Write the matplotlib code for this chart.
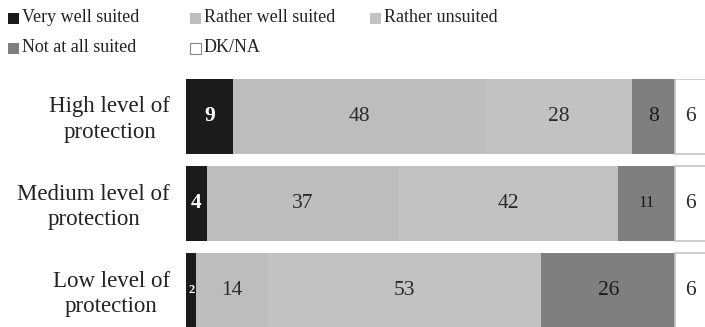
import matplotlib
matplotlib.use("Agg")
import matplotlib.pyplot as plt
from matplotlib.patches import Rectangle
from matplotlib.transforms import blended_transform_factory
import numpy as np

SERIF = ['Liberation Serif', 'DejaVu Serif']
plt.rcParams['font.family'] = SERIF

categories = ["High level of\nprotection", "Medium level of\nprotection", "Low level of\nprotection"]
series_names = ["Very well suited", "Rather well suited", "Rather unsuited", "Not at all suited", "DK/NA"]
very_well = [9, 4, 2]
rather_well = [48, 37, 14]
rather_unsuited = [28, 42, 53]
not_at_all = [8, 11, 26]
dk_na = [6, 6, 6]

series = [very_well, rather_well, rather_unsuited, not_at_all, dk_na]
colors = ["#1b1b1b", "#bdbdbd", "#c2c2c2", "#7f7f7f", "#ffffff"]
edges = ["none", "none", "none", "none", "#c4c4c4"]
text_colors = ["white", "#2a2a2a", "#2a2a2a", "#1a1a1a", "#2a2a2a"]
text_weights = ["bold", "normal", "normal", "normal", "normal"]

# each row is scaled to a 100% total
data = np.array(series, dtype=float)
shares = data / data.sum(axis=0) * 100

fig = plt.figure(figsize=(7.05, 3.27), dpi=100)
ax = fig.add_axes([186 / 705, 0, 519 / 705, 1 - 79 / 327])

y = np.arange(len(categories))
left = np.zeros(len(categories))
bar_h = 0.86
for vals, widths, col, ec, tc, tw in zip(data, shares, colors, edges, text_colors, text_weights):
    ax.barh(y, widths, left=left, height=bar_h, color=col, edgecolor=ec,
            linewidth=1.2 if ec != "none" else 0)
    for yi, (l, w, v) in enumerate(zip(left, widths, vals)):
        size = 15.5
        if v <= 2:
            size = 9
        elif 10 <= v <= 12:
            size = 12
        ax.text(l + w / 2, yi, f"{int(v)}", ha="center", va="center",
                color=tc, fontsize=size, fontweight=tw, family=SERIF)
    left += widths

ax.set_xlim(0, 99.8)
ax.set_ylim(2.42, -0.43)
ax.set_yticks([])
ax.set_xticks([])
for s in ax.spines.values():
    s.set_visible(False)

# category names, right-aligned beside each bar
label_tr = blended_transform_factory(ax.transAxes, ax.transData)
for yi, cat in zip(y, categories):
    ax.text(-16 / 519, yi + 0.04, cat, transform=label_tr, ha="right", va="center",
            multialignment="center", fontsize=16.5, color="#222222",
            linespacing=1.3, family=SERIF, clip_on=False)

# legend laid out in two rows
legend_pos = [(8, 18), (190, 18), (370, 18), (8, 48), (190, 48)]
for name, col, (px, py) in zip(series_names, colors, legend_pos):
    fx, fy = px / 705, 1 - py / 327
    fig.patches.append(Rectangle((fx, fy - 5.5 / 327), 11 / 705, 11 / 327,
                                 transform=fig.transFigure, facecolor=col,
                                 edgecolor="#888888" if col == "#ffffff" else "none",
                                 linewidth=0.8))
    fig.text(fx + 14 / 705, fy, name, ha="left", va="center", fontsize=13,
             color="#222222", family=SERIF)

fig.savefig("out.png", dpi=100)
